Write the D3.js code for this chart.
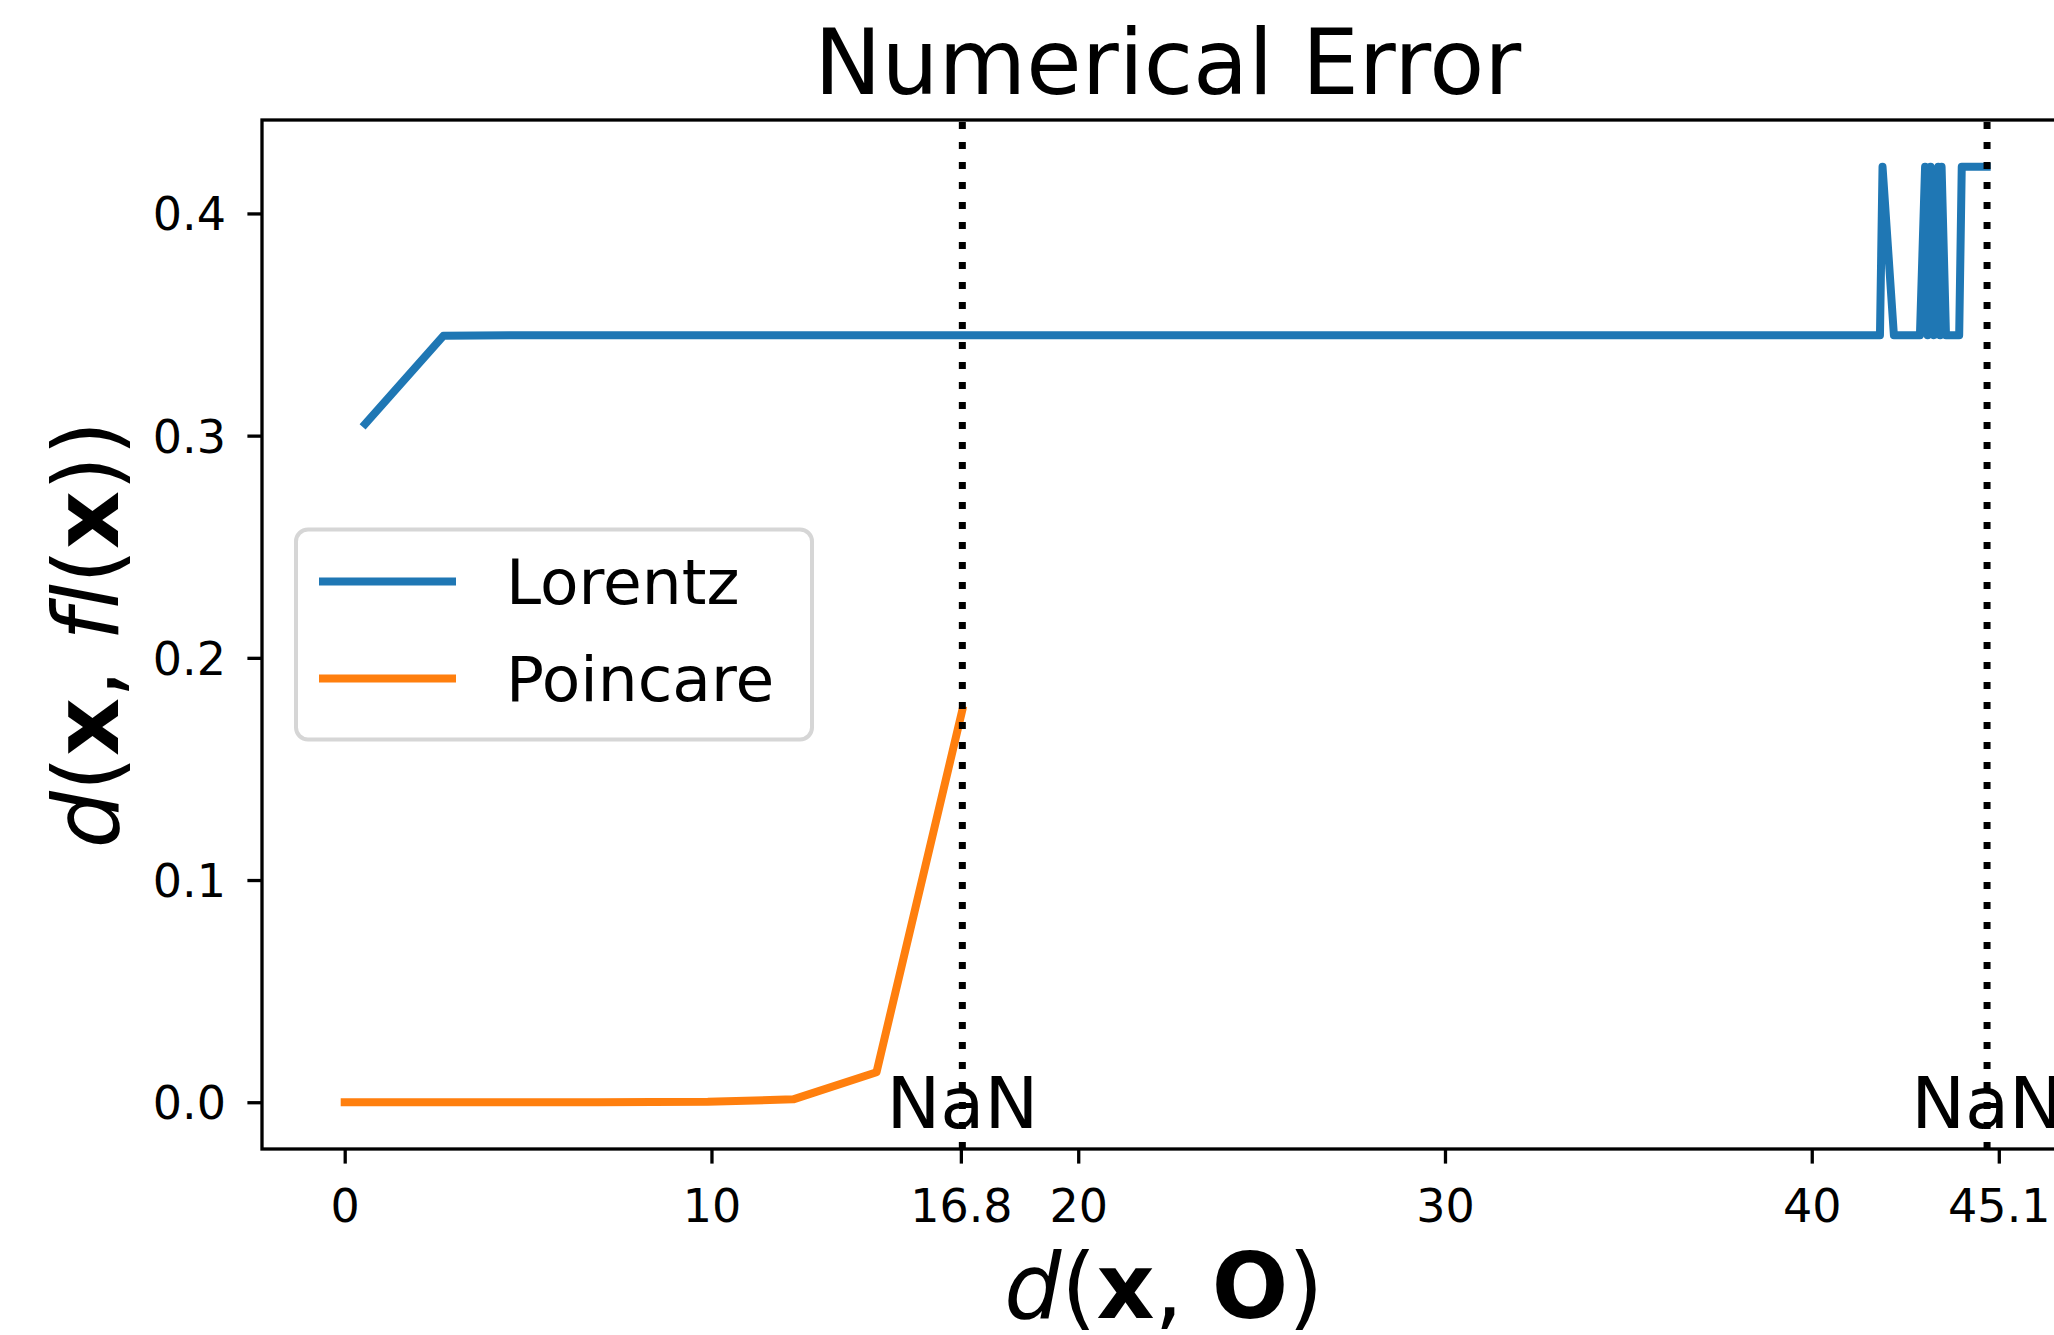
<!DOCTYPE html>
<html>
<head>
<meta charset="utf-8">
<script src="https://cdn.jsdelivr.net/npm/d3@7"></script>
<style>
    html, body { margin: 0; padding: 0; background: #ffffff; overflow: hidden; }
    svg { display: block; font-family: "DejaVu Sans", sans-serif; font-variant-ligatures: none; }
</style>
</head>
<body>
<div id="chart"></div>
<script>
// values
const lorentzX = [0.56, 2.69, 5.07, 41.86, 41.93, 42.24, 42.95, 43.09, 43.16, 43.24, 43.33, 43.45, 43.50, 43.54, 43.66, 44.02, 44.09, 44.77];
const lorentzY = [0.3053, 0.3449, 0.3452, 0.3452, 0.421, 0.3452, 0.3452, 0.421, 0.3452, 0.421, 0.3452, 0.421, 0.3452, 0.421, 0.3452, 0.3452, 0.421, 0.421];

const poincareX = [0, 2.3, 4.6, 6.9, 9.9, 12.23, 14.5, 16.84];
const poincareY = [0, 0, 0, 0, 0.0002, 0.0013, 0.0135, 0.1765];

const nanX = [16.84, 44.78];
const nanLabel = 'NaN';

const xTicks = [0, 10, 16.8, 20, 30, 40, 45.1];
const xTickLabels = ['0', '10', '16.8', '20', '30', '40', '45.1'];
const yTicks = [0, 0.1, 0.2, 0.3, 0.4];
const yTickLabels = ['0.0', '0.1', '0.2', '0.3', '0.4'];

const seriesNames = ['Lorentz', 'Poincare'];
const seriesColors = ['#1f77b4', '#ff7f0e'];

const xDomain = [-2.255, 47.355];
const yDomain = [-0.02105, 0.44205];

function createErrorChart() {
    const W = 2054, H = 1335;
    const margin = { top: 120, left: 262 };
    const width = 1819.5;
    const height = 1029;
    const lw = 8;
    const spine = 3.3;
    const tickLen = 14.6;

    const root = d3.select('#chart')
        .append('svg')
        .attr('width', W)
        .attr('height', H)
        .attr('viewBox', `0 0 ${W} ${H}`);

    root.append('rect').attr('width', W).attr('height', H).attr('fill', '#ffffff');

    const svg = root.append('g')
        .attr('transform', `translate(${margin.left},${margin.top})`);

    const x = d3.scaleLinear().domain(xDomain).range([0, width]);
    const y = d3.scaleLinear().domain(yDomain).range([height, 0]);

    // title
    root.append('text')
        .attr('x', margin.left + width / 2 - 4)
        .attr('y', 94)
        .attr('text-anchor', 'middle')
        .style('font-size', '90px')
        .text('Numerical Error');

    // x axis
    const xAxis = svg.append('g')
        .attr('transform', `translate(0,${height})`)
        .call(d3.axisBottom(x)
            .tickValues(xTicks)
            .tickFormat((d, i) => xTickLabels[i])
            .tickSize(tickLen)
            .tickSizeOuter(0));
    xAxis.select('.domain').remove();
    xAxis.selectAll('.tick line').attr('stroke', '#000').attr('stroke-width', spine);
    xAxis.selectAll('.tick text')
        .attr('y', 73)
        .attr('dy', null)
        .attr('fill', '#000')
        .style('font-size', '46px')
        .style('font-family', '"DejaVu Sans", sans-serif');

    // y axis
    const yAxis = svg.append('g')
        .call(d3.axisLeft(y)
            .tickValues(yTicks)
            .tickFormat((d, i) => yTickLabels[i])
            .tickSize(tickLen)
            .tickSizeOuter(0));
    yAxis.select('.domain').remove();
    yAxis.selectAll('.tick line').attr('stroke', '#000').attr('stroke-width', spine);
    yAxis.selectAll('.tick text')
        .attr('x', -36)
        .attr('dy', '0.36em')
        .attr('fill', '#000')
        .style('font-size', '46px')
        .style('font-family', '"DejaVu Sans", sans-serif');

    // lines
    const line = d3.line()
        .x(d => x(d[0]))
        .y(d => y(d[1]));

    const series = [
        d3.zip(lorentzX, lorentzY),
        d3.zip(poincareX, poincareY)
    ];

    svg.selectAll('.series')
        .data(series)
        .enter()
        .append('path')
        .attr('class', 'series')
        .attr('d', line)
        .attr('fill', 'none')
        .attr('stroke', (d, i) => seriesColors[i])
        .attr('stroke-width', lw)
        .attr('stroke-linejoin', 'round')
        .attr('stroke-linecap', 'square');

    // NaN markers
    svg.selectAll('.nan-line')
        .data(nanX)
        .enter()
        .append('line')
        .attr('class', 'nan-line')
        .attr('x1', d => x(d))
        .attr('x2', d => x(d))
        .attr('y1', height)
        .attr('y2', 0)
        .attr('stroke', '#000')
        .attr('stroke-width', 7)
        .attr('stroke-dasharray', '7 13');

    svg.selectAll('.nan-label')
        .data(nanX)
        .enter()
        .append('text')
        .attr('class', 'nan-label')
        .attr('x', d => x(d))
        .attr('y', y(0) + 26)
        .attr('text-anchor', 'middle')
        .style('font-size', '72px')
        .text(nanLabel);

    // spines (right one lies outside the picture)
    svg.append('rect')
        .attr('x', 0)
        .attr('y', 0)
        .attr('width', width)
        .attr('height', height)
        .attr('fill', 'none')
        .attr('stroke', '#000')
        .attr('stroke-width', spine);

    // legend
    const legend = svg.append('g')
        .attr('transform', `translate(34,${height / 2 - 105})`);

    legend.append('rect')
        .attr('width', 516)
        .attr('height', 210)
        .attr('rx', 12)
        .attr('ry', 12)
        .attr('fill', '#ffffff')
        .attr('fill-opacity', 0.8)
        .attr('stroke', '#d6d6d6')
        .attr('stroke-width', 4);

    const items = legend.selectAll('.legend-item')
        .data(seriesNames)
        .enter()
        .append('g')
        .attr('class', 'legend-item')
        .attr('transform', (d, i) => `translate(0,${52 + i * 97})`);

    items.append('line')
        .attr('x1', 23)
        .attr('x2', 160)
        .attr('stroke', (d, i) => seriesColors[i])
        .attr('stroke-width', lw);

    items.append('text')
        .attr('x', 210)
        .attr('dy', '0.36em')
        .style('font-size', '63px')
        .text(d => d);

    // axis labels
    const xLabel = root.append('text')
        .attr('x', margin.left + width / 2 - 8)
        .attr('y', 1318)
        .attr('text-anchor', 'middle')
        .style('font-size', '90px');
    xLabel.append('tspan').style('font-style', 'italic').text('d');
    xLabel.append('tspan').text('(');
    xLabel.append('tspan').style('font-weight', 'bold').text('x');
    xLabel.append('tspan').text(', ');
    xLabel.append('tspan').style('font-weight', 'bold').text('O');
    xLabel.append('tspan').text(')');

    const yLabel = root.append('text')
        .attr('transform', `translate(118,${margin.top + height / 2}) rotate(-90)`)
        .attr('text-anchor', 'middle')
        .style('font-size', '90px');
    yLabel.append('tspan').style('font-style', 'italic').text('d');
    yLabel.append('tspan').text('(');
    yLabel.append('tspan').style('font-weight', 'bold').text('x');
    yLabel.append('tspan').text(', ');
    yLabel.append('tspan').style('font-style', 'italic').text('f');
    yLabel.append('tspan').style('font-style', 'italic').text('l');
    yLabel.append('tspan').text('(');
    yLabel.append('tspan').style('font-weight', 'bold').text('x');
    yLabel.append('tspan').text('))');
}

createErrorChart();
</script>
</body>
</html>
